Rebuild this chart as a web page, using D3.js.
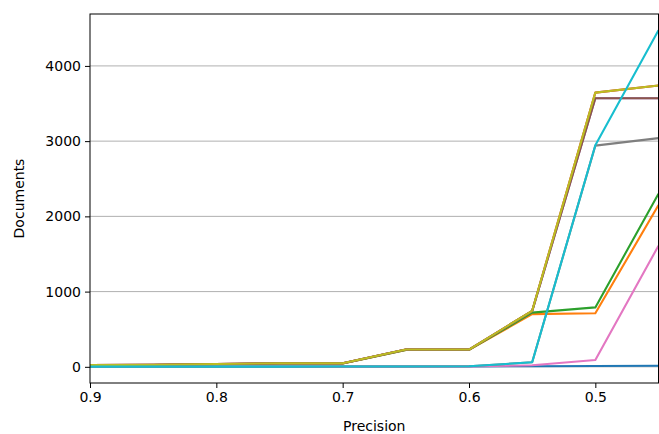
<!DOCTYPE html>
<html>
<head>
<meta charset="utf-8">
<script src="https://cdn.jsdelivr.net/npm/d3@7"></script>
<style>
  body { margin: 0; background: #fff; }
  svg { display: block; font-family: "DejaVu Sans", sans-serif; }
</style>
</head>
<body>
<div id="chart"></div>
<script>
// precision thresholds (x) and document counts per run
var precision = [0.9, 0.85, 0.8, 0.75, 0.7, 0.65, 0.6, 0.55, 0.5, 0.45];
var xTicks = [0.9, 0.8, 0.7, 0.6, 0.5];
var yTicks = [0, 1000, 2000, 3000, 4000];

var runBlue   = [3, 3, 3, 3, 3, 4, 5, 8, 10, 15];
var runOrange = [20, 25, 35, 45, 45, 225, 225, 700, 712, 2150];
var runGreen  = [20, 25, 35, 45, 45, 225, 225, 720, 790, 2300];
var runRed    = [22, 27, 38, 48, 48, 230, 230, 745, 3645, 3740];
var runPurple = [22, 27, 38, 48, 48, 230, 230, 740, 3570, 3570];
var runBrown  = [22, 27, 38, 48, 48, 230, 230, 740, 3570, 3570];
var runPink   = [2, 2, 2, 2, 2, 3, 5, 20, 90, 1610];
var runGray   = [3, 3, 3, 3, 4, 5, 8, 60, 2940, 3040];
var runOlive  = [22, 27, 38, 48, 48, 230, 230, 745, 3645, 3740];
var runCyan   = [3, 3, 3, 3, 4, 5, 8, 60, 2945, 4475];

var series = [runBlue, runOrange, runGreen, runRed, runPurple, runBrown, runPink, runGray, runOlive, runCyan];
var colors = ["#1f77b4", "#ff7f0e", "#2ca02c", "#d62728", "#9467bd", "#8c564b", "#e377c2", "#7f7f7f", "#bcbd22", "#17becf"];

var width = 659, height = 434;
var mLeft = 90, mRight = 658.5, mTop = 14, mBottom = 383;

var svg = d3.select("#chart").append("svg")
    .attr("width", width)
    .attr("height", height);

var x = d3.scaleLinear().domain([0.9, 0.45]).range([mLeft, mRight]);
var y = d3.scaleLinear().domain([-215, 4690]).range([mBottom, mTop]);

// grid
svg.append("g")
    .selectAll("line")
    .data(yTicks)
    .enter().append("line")
    .attr("x1", mLeft).attr("x2", mRight)
    .attr("y1", function(d) { return y(d); })
    .attr("y2", function(d) { return y(d); })
    .attr("stroke", "#b0b0b0")
    .attr("stroke-width", 1);

var line = d3.line()
    .x(function(d, i) { return x(precision[i]); })
    .y(function(d) { return y(d); });

svg.append("defs").append("clipPath").attr("id", "clip")
    .append("rect").attr("x", mLeft).attr("y", mTop)
    .attr("width", mRight - mLeft).attr("height", mBottom - mTop);

svg.append("g").attr("clip-path", "url(#clip)")
    .selectAll("path")
    .data(series)
    .enter().append("path")
    .attr("d", line)
    .attr("fill", "none")
    .attr("stroke", function(d, i) { return colors[i]; })
    .attr("stroke-width", 2.1)
    .attr("stroke-linejoin", "round");

var x_axis = d3.axisBottom(x).tickValues(xTicks).tickSize(5).tickPadding(4)
    .tickFormat(d3.format(".1f"));
var y_axis = d3.axisLeft(y).tickValues(yTicks).tickSize(5).tickPadding(4)
    .tickFormat(d3.format("d"));

var gx = svg.append("g")
    .attr("transform", "translate(0," + mBottom + ")")
    .call(x_axis);
var gy = svg.append("g")
    .attr("transform", "translate(" + mLeft + ",0)")
    .call(y_axis);

[gx, gy].forEach(function(g) {
    g.select(".domain").remove();
    g.selectAll(".tick line").attr("stroke", "#000").attr("stroke-width", 1);
    g.selectAll(".tick text").attr("fill", "#000").style("font-size", "14px")
        .style("font-family", "DejaVu Sans, sans-serif");
});

// frame
svg.append("rect")
    .attr("x", mLeft).attr("y", mTop)
    .attr("width", mRight - mLeft).attr("height", mBottom - mTop)
    .attr("fill", "none").attr("stroke", "#000").attr("stroke-width", 1);

svg.append("text")
    .attr("x", (mLeft + mRight) / 2).attr("y", 431)
    .attr("text-anchor", "middle")
    .style("font-size", "14px")
    .text("Precision");

svg.append("text")
    .attr("transform", "translate(24," + ((mTop + mBottom) / 2) + ") rotate(-90)")
    .attr("text-anchor", "middle")
    .style("font-size", "14px")
    .text("Documents");
</script>
</body>
</html>
